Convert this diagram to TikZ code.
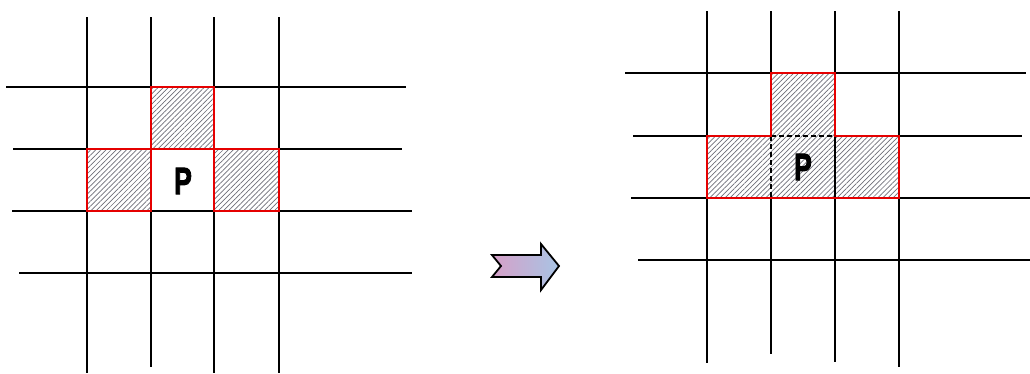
\documentclass[tikz,border=0pt]{standalone}
\usepackage{fontspec}
\setmainfont{Liberation Sans}
\newfontfamily\pfont[FakeBold=3]{Liberation Sans}
\usetikzlibrary{patterns.meta}
\definecolor{hatchgray}{RGB}{110,110,120}
\definecolor{arrowpink}{RGB}{214,160,200}
\definecolor{arrowblue}{RGB}{168,196,228}
\tikzset{
  gridline/.style={line width=1.8pt, black},
  redline/.style={line width=1.4pt, red!90!black},
  hatched/.style={preaction={fill=white}, pattern={Lines[angle=45,distance=3.6pt,line width=0.7pt]}, pattern color=hatchgray},
  dashline/.style={line width=1.8pt, black, dash pattern=on 5pt off 3pt},
  plabel/.style={font=\pfont\bfseries\fontsize{38}{38}\selectfont, inner sep=0pt}
}
\newcommand{\narrowP}{\scalebox{0.7}[1]{P}}
\begin{document}
\begin{tikzpicture}[x=1pt,y=-1pt]
\useasboundingbox (0,0) rectangle (1030,373);
% ---------- left grid ----------
\draw[gridline] (87,17) -- (87,373);
\draw[gridline] (151,17) -- (151,367);
\draw[gridline] (214,17) -- (214,373);
\draw[gridline] (279,17) -- (279,373);
\draw[gridline] (6,87) -- (406,87);
\draw[gridline] (13,149) -- (402,149);
\draw[gridline] (12,211) -- (412,211);
\draw[gridline] (19,273) -- (412,273);
% hatched cells
\path[hatched] (151,87) rectangle (214,149);
\path[hatched] (87,149) rectangle (151,211);
\path[hatched] (214,149) rectangle (279,211);
\draw[redline] (151,87) rectangle (214,149);
\draw[redline] (87,149) rectangle (151,211);
\draw[redline] (214,149) rectangle (279,211);
\node[plabel] (pleft) at (183,181) {\narrowP};
% ---------- arrow ----------
\shade[left color=arrowpink, right color=arrowblue, draw=black, line width=1.8pt, line join=miter]
  (492,255) -- (541,255) -- (541,244) -- (559,266) -- (541,290) -- (541,277) -- (492,277) -- (501,266) -- cycle;
% ---------- right grid ----------
\draw[gridline] (707,11) -- (707,363);
\draw[gridline] (771,11) -- (771,354);
\draw[gridline] (835,11) -- (835,362);
\draw[gridline] (899,11) -- (899,367);
\draw[gridline] (625,73) -- (1026,73);
\draw[gridline] (633,136) -- (1022,136);
\draw[gridline] (631,198) -- (1030,198);
\draw[gridline] (638,260) -- (1030,260);
% merged region
\path[hatched] (771,73) -- (835,73) -- (835,136) -- (899,136) -- (899,198) -- (707,198) -- (707,136) -- (771,136) -- cycle;
\draw[dashline] (771,136) -- (835,136);
\draw[dashline] (771,136) -- (771,198);
\draw[gridline] (835,136) -- (835,198);
\draw[redline] (771,73) -- (835,73) -- (835,136) -- (899,136) -- (899,198) -- (707,198) -- (707,136) -- (771,136) -- cycle;
\node[plabel] (pright) at (803,167) {\narrowP};
\end{tikzpicture}
\end{document}
